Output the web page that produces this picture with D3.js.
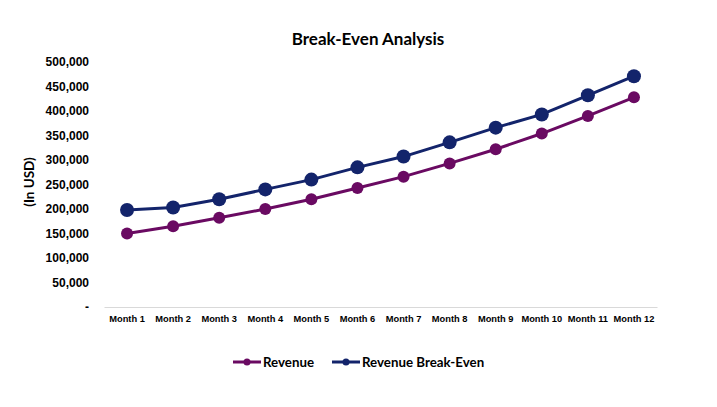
<!DOCTYPE html>
<html><head><meta charset="utf-8">
<script src="https://cdn.jsdelivr.net/npm/d3@7"></script>
<style>body{margin:0;background:#fff}svg{font-family:"Century Gothic","Lato","DejaVu Sans",sans-serif;font-weight:bold}</style>
</head><body><svg id="c" width="717" height="407"></svg>
<script>
const months = ["Month 1","Month 2","Month 3","Month 4","Month 5","Month 6","Month 7","Month 8","Month 9","Month 10","Month 11","Month 12"];
const revenue = [150000,165000,182000,200000,220000,243000,266000,293000,322000,354000,390000,428000];
const breakEven = [198000,203000,220000,240000,260000,285000,307000,336000,366000,393000,432000,471000];
const yTicks = [0,50000,100000,150000,200000,250000,300000,350000,400000,450000,500000];
const seriesNames = ["Revenue","Revenue Break-Even"];
const colors = ["#6a0a62","#13246b"];

const svg = d3.select("#c");
const x = d3.scaleBand().domain(months).range([104,657]);
const y = d3.scaleLinear().domain([0,500000]).range([307,62]);

svg.append("text").attr("x",368).attr("y",45).attr("text-anchor","middle").attr("font-size",17).attr("fill","#000").text("Break-Even Analysis");

const fmt = d3.format(",");
const ya = svg.append("g").attr("transform","translate(89,0)")
  .call(d3.axisLeft(y).tickValues(yTicks).tickSize(0).tickPadding(0).tickFormat(d=>d===0?"-":fmt(d)));
ya.select(".domain").remove();
ya.selectAll("text").attr("font-size",12).attr("fill","#000").attr("font-family",null).attr("font-weight","bold");

const xa = svg.append("g").attr("transform","translate(0,307)")
  .call(d3.axisBottom(x).tickSize(0).tickPadding(8));
xa.select(".domain").attr("stroke","#d9d9d9").attr("stroke-width",1);
xa.selectAll("text").attr("font-size",9.3).attr("fill","#000").attr("font-family",null).attr("font-weight","bold");

svg.append("text").attr("transform","translate(34,182) rotate(-90)").attr("text-anchor","middle").attr("font-size",13.5).attr("fill","#000").text("(In USD)");

const data = [revenue, breakEven];
const radii = [6,7];
data.forEach((vals,i)=>{
  const line = d3.line().x((d,j)=>x(months[j])+x.bandwidth()/2).y(d=>y(d));
  svg.append("path").datum(vals).attr("d",line).attr("fill","none").attr("stroke",colors[i]).attr("stroke-width",3);
  svg.selectAll(null).data(vals).enter().append("circle")
    .attr("cx",(d,j)=>x(months[j])+x.bandwidth()/2).attr("cy",d=>y(d)).attr("r",radii[i]).attr("fill",colors[i]);
});

const legX = [233,332];
seriesNames.forEach((n,i)=>{
  const g = svg.append("g").attr("transform",`translate(${legX[i]},362)`);
  g.append("line").attr("x1",0).attr("x2",28).attr("y1",0).attr("y2",0).attr("stroke",colors[i]).attr("stroke-width",3);
  g.append("circle").attr("cx",14).attr("cy",0).attr("r",3.5).attr("fill",colors[i]);
  g.append("text").attr("x",30).attr("y",4.5).attr("font-size",13.3).attr("fill","#000").text(n);
});
</script></body></html>
